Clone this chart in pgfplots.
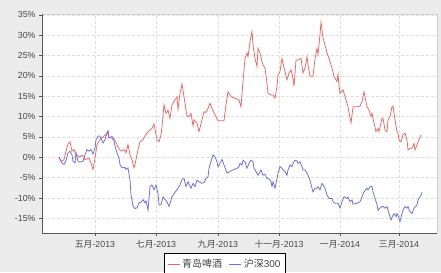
\documentclass[border=0pt]{standalone}
\usepackage{pgfplots}
\pgfplotsset{compat=1.18}
\usepackage{fontspec}
\setmainfont{Liberation Sans}
\newfontfamily\cjk{Noto Sans CJK SC}
\definecolor{bgc}{RGB}{236,236,236}
\definecolor{redl}{RGB}{240,100,100}
\definecolor{bluel}{RGB}{104,104,240}
\definecolor{tickc}{RGB}{70,70,70}
\begin{document}
\begin{tikzpicture}[x=1bp,y=1bp]
\fill[bgc] (0,0) rectangle (441,272);
\path[use as bounding box] (0,0) rectangle (441,272);
\begin{axis}[
  at={(42bp,39bp)}, anchor=south west,
  scale only axis, width=395bp, height=219bp,
  xmin=-53, xmax=342, ymin=-18.6, ymax=35.2,
  axis background/.style={fill=white},
  axis line style={gray!35},
  xtick={0,61,123,184,245,304},
  xticklabels={{\cjk 五月}-2013,{\cjk 七月}-2013,{\cjk 九月}-2013,{\cjk 十一月}-2013,{\cjk 一月}-2014,{\cjk 三月}-2014},
  ytick={-15,-10,-5,0,5,10,15,20,25,30,35},
  yticklabels={-15\%,-10\%,-5\%,0\%,5\%,10\%,15\%,20\%,25\%,30\%,35\%},
  xtick pos=bottom, ytick pos=left,
  tick align=outside, major tick length=3bp,
  tick style={gray!70!black},
  ticklabel style={font=\fontsize{8.8bp}{10bp}\selectfont, text=tickc},
  xticklabel style={yshift=-1bp},
  grid=major, major grid style={densely dashed, gray!25},
  legend style={at={(0.463,-0.091)}, anchor=north, draw=black, fill=white,
    font=\fontsize{10bp}{11bp}\selectfont, text=tickc, inner ysep=4bp, inner xsep=3bp},
  legend columns=2,
  legend image code/.code={\draw[#1] (0bp,0bp) -- (12bp,0bp);},
  legend cell align=left,
  /tikz/every even column/.append style={column sep=5bp},
]
\draw[gray!70!black] (rel axis cs:0,1) -- (rel axis cs:0,0) -- (rel axis cs:1,0);
\addplot[redl, line width=0.75bp] coordinates {
(-36,0) (-34,-1.0) (-31,-0.6) (-29,1.5) (-27,3.3) (-25,3.8) (-23,1.5) (-21,1.9) (-19,0.6) (-16,0.2) (-15,0.0) (-13,0.5) (-11,0.2) (-10,-0.6) (-6,-0.2) (-4,-1.4) (-2,-3.0) (0,-0.2) (2,3.1) (4,3.9) (6,4.7) (9,5.2) (11,5.6) (13,6.5) (14,4.7) (17,5.2) (20,4.1) (22,3.1) (24,2.1) (26,1.5) (29,1.9) (31,1.1) (33,3.1) (35,0.6) (37,-0.6) (39,-2.6) (40,-1.8) (43,1.9) (45,3.8) (48,4.3) (50,5.2) (53,6.3) (57,7.1) (59,8.2) (62,4.3) (64,3.8) (66,5.5) (67,7.5) (69,12.9) (71,10.8) (73,11.6) (75,9.6) (77,12.9) (79,13.7) (82,14.9) (83,11.8) (85,15.7) (87,18.0) (89,14.9) (92,10.0) (94,10.0) (96,10.8) (98,7.7) (99,9.2) (102,8.4) (104,6.3) (107,9.2) (109,11.2) (111,11.0) (113,12.0) (115,13.3) (117,12.0) (120,10.4) (123,9.0) (126,9.0) (129,9.0) (131,12.9) (133,16.1) (136,14.9) (140,14.5) (144,14.1) (146,12.4) (148,18.6) (150,24.3) (152,25.6) (153,24.7) (155,28.4) (157,30.9) (158,27.6) (160,24.3) (162,22.3) (163,26.8) (165,25.6) (167,23.5) (168,22.7) (170,21.9) (172,18.2) (173,15.7) (176,15.3) (178,15.3) (180,14.5) (182,17.4) (183,20.2) (185,21.1) (187,24.3) (188,23.1) (190,21.1) (192,19.0) (194,20.7) (196,21.5) (198,19.4) (199,17.4) (201,23.9) (203,23.9) (206,24.3) (208,20.7) (210,21.9) (212,24.7) (213,22.7) (215,19.9) (218,19.9) (220,24.3) (222,26.8) (223,25.2) (225,30.1) (226,33.2) (228,29.3) (230,27.6) (232,25.6) (234,24.3) (237,21.9) (239,19.8) (242,18.6) (243,20.5) (244,17.6) (245,15.7) (248,16.6) (251,14.1) (253,12.4) (256,8.4) (258,12.4) (262,12.4) (265,12.6) (267,13.7) (269,16.1) (272,12.4) (274,11.6) (276,10.0) (277,10.8) (279,8.4) (281,6.3) (283,7.1) (284,6.3) (287,9.6) (288,9.6) (290,6.7) (292,6.3) (293,9.2) (295,10.0) (297,12.4) (298,12.6) (300,9.2) (302,6.3) (303,5.9) (304,4.3) (306,3.8) (308,5.5) (310,5.9) (312,4.3) (313,1.8) (315,2.2) (317,2.2) (319,3.4) (320,1.8) (322,3.0) (324,4.3) (326,5.5)
};
\addlegendentry{{\cjk 青岛啤酒}}
\addplot[bluel, line width=0.75bp] coordinates {
(-36,0) (-33,-1.4) (-31,-1.8) (-29,-0.8) (-27,1.1) (-25,1.5) (-23,0.6) (-22,-1.0) (-20,-1.4) (-19,1.1) (-17,-1.0) (-15,-1.2) (-12,-1.0) (-10,0.6) (-8,1.9) (-6,1.5) (-4,1.9) (-2,0.8) (0,2.3) (1,4.3) (3,5.2) (5,5.2) (6,4.7) (8,3.5) (10,4.3) (11,5.2) (13,6.4) (14,4.9) (17,4.7) (19,4.1) (20,2.7) (22,1.1) (24,-0.2) (25,-1.8) (27,-2.6) (30,-2.5) (31,-3.0) (33,-2.6) (35,-5.5) (36,-9.2) (38,-12.0) (40,-12.6) (42,-12.4) (44,-11.2) (46,-11.0) (48,-10.4) (50,-11.2) (51,-10.7) (53,-13.0) (55,-7.2) (57,-6.8) (59,-8.0) (61,-6.8) (63,-8.9) (64,-11.7) (66,-11.7) (68,-9.7) (69,-10.1) (72,-10.9) (74,-12.1) (77,-9.7) (79,-8.9) (82,-8.0) (83,-7.6) (85,-6.8) (87,-5.4) (89,-5.2) (91,-7.2) (93,-6.0) (96,-7.6) (98,-6.4) (100,-7.2) (102,-5.6) (104,-6.0) (107,-6.4) (109,-6.2) (111,-5.2) (113,-4.8) (114,-2.7) (117,-0.2) (118,0.6) (120,0.1) (122,-1.1) (123,-2.3) (125,-1.5) (127,-0.5) (129,-1.9) (132,-3.9) (135,-3.5) (138,-3.1) (142,-2.7) (144,-2.3) (145,-1.5) (147,-1.9) (148,-0.7) (150,-1.1) (152,-2.7) (154,-1.5) (156,-0.7) (158,-1.1) (159,-2.7) (161,-3.5) (163,-4.4) (166,-3.1) (168,-4.4) (170,-4.2) (172,-5.2) (174,-5.3) (176,-6.0) (177,-7.2) (178,-6.0) (180,-7.6) (182,-5.2) (183,-3.9) (185,-2.3) (187,-2.7) (188,-3.1) (190,-3.5) (192,-4.4) (193,-3.1) (195,-1.9) (197,-2.3) (198,-1.5) (200,-0.7) (202,-0.9) (203,-1.5) (205,-1.1) (207,-2.3) (208,-3.1) (210,-3.1) (212,-3.9) (213,-4.4) (215,-5.6) (217,-7.6) (218,-8.5) (220,-7.6) (222,-7.6) (223,-7.2) (225,-8.0) (227,-6.4) (228,-6.8) (230,-7.6) (232,-9.3) (234,-10.1) (237,-10.1) (238,-10.9) (240,-11.3) (243,-11.3) (245,-12.5) (247,-10.9) (249,-9.7) (252,-10.1) (253,-9.8) (255,-10.9) (257,-10.5) (258,-11.5) (262,-11.3) (265,-10.9) (267,-9.7) (269,-8.5) (272,-7.6) (273,-8.0) (275,-7.2) (277,-7.2) (278,-8.5) (280,-10.1) (282,-11.7) (283,-13.0) (285,-12.5) (287,-12.1) (288,-12.1) (290,-12.5) (292,-12.1) (294,-13.8) (296,-15.4) (298,-14.2) (299,-13.8) (301,-14.6) (302,-13.8) (303,-14.2) (305,-15.8) (307,-13.8) (308,-13.0) (310,-12.1) (312,-12.5) (313,-12.1) (315,-13.4) (317,-13.8) (319,-12.5) (322,-11.7) (323,-10.5) (326,-9.3) (327,-8.5)
};
\addlegendentry{{\cjk 沪深}300}
\end{axis}
\end{tikzpicture}
\end{document}
